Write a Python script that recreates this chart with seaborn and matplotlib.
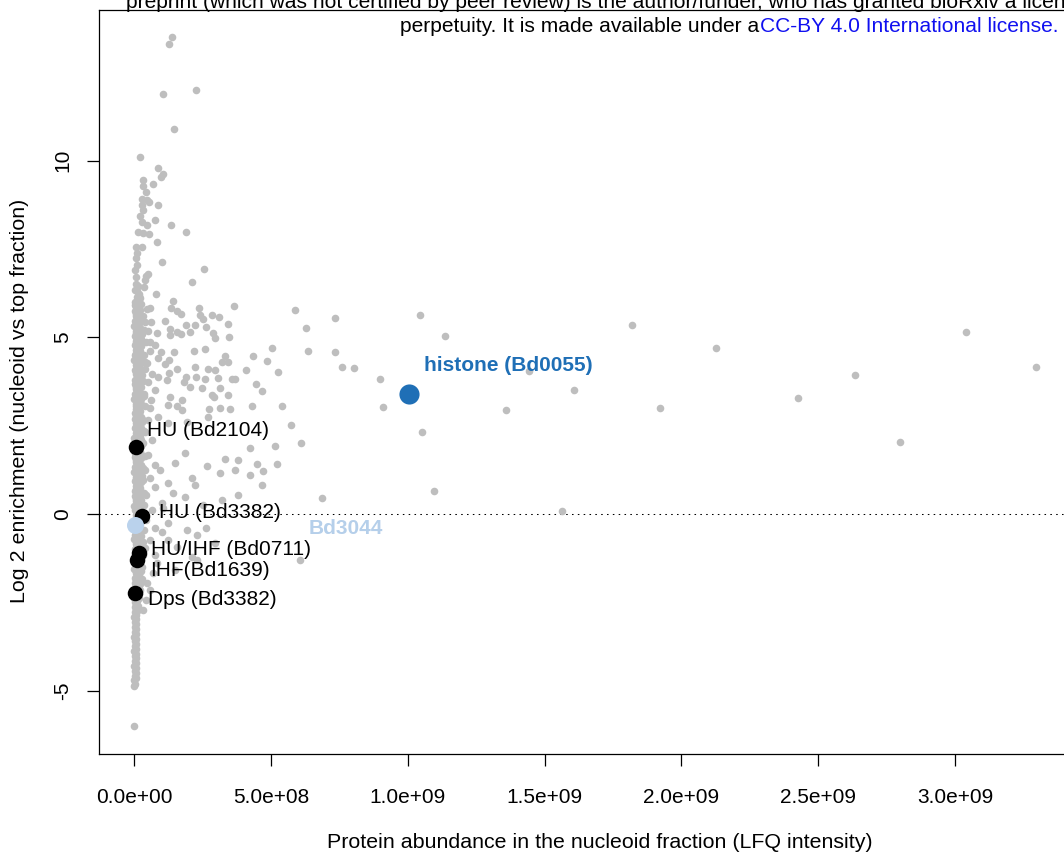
import numpy as np
import pandas as pd
import seaborn as sns
import matplotlib
matplotlib.use("Agg")
import matplotlib.pyplot as plt

# ---------------- data (abundance in units of 1e8 LFQ, enrichment in log2) ----------------
scatter_x = [1.37, 1.26, 1.04, 2.25, 1.44, 0.20, 0.86, 1.04, 0.97, 0.31, 0.68, 0.31, 0.42, 0.27, 0.46, 0.53,
             0.27, 0.86, 0.31, 0.20, 0.75, 0.27, 0.46, 1.32, 1.88, 0.13, 0.31, 0.53, 0.82, 0.05, 0.27, 0.09,
             0.07, 0.99, 0.09, 2.54, 0.02, 0.49, 0.42, 0.07, 2.10, 0.38, 0.05, 0.35, 0.02, 0.79, 0.09, 1.41,
             0.02, 3.64, 2.36, 1.32, 0.57, 0.46, 1.55, 1.70, 2.83, 3.09, 2.39, 2.50, 5.87, 7.33, 10.44, 11.35,
             18.19, 0.60, 1.12, 3.42, 1.88, 2.21, 2.61, 1.30, 1.55, 0.49, 0.84, 2.03, 1.70, 2.87, 3.46, 1.30,
             2.94, 6.27, 0.42, 0.75, 0.57, 2.18, 2.58, 0.97, 1.44, 4.33, 5.03, 3.31, 0.86, 4.84, 1.26, 3.20,
             3.42, 0.46, 1.12, 6.34, 7.33, 21.26, 2.21, 1.55, 2.69, 2.94, 4.08, 5.23, 7.59, 8.03, 1.26, 1.88,
             2.25, 0.86, 2.58, 3.05, 3.56, 3.67, 8.98, 14.42, 26.34, 32.96, 1.19, 0.49, 1.81, 4.44, 4.66, 16.07,
             2.03, 2.47, 3.13, 0.75, 2.83, 2.91, 3.42, 1.30, 24.26, 1.74, 0.60, 1.22, 1.55, 2.72, 3.13, 3.49,
             4.30, 5.39, 9.09, 13.58, 19.21, 1.74, 0.57, 2.69, 0.86, 1.22, 1.92, 5.72, 10.51, 6.09, 27.99, 4.22,
             5.14, 1.85, 1.48, 3.31, 3.78, 2.65, 3.13, 3.67, 4.48, 5.21, 4.22, 4.70, 2.10, 2.21, 1.22, 0.75,
             4.66, 3.78, 10.95, 6.86, 3.20, 1.85, 1.41, 1.01, 2.50, 1.04, 15.63, 1.92, 2.29, 2.63, 1.01, 1.22,
             0.75, 2.94, 1.22, 2.10, 6.05, 1.55, 2.29, 0.82, 1.48, 0.68, 0.46, 30.39,
             0.38, 0.57, 0.38, 0.64, 0.35, 0.49, 0.38, 0.64, 0.49, 0.75, 0.38, 0.57, 0.93, 0.42, 0.64, 0.42,
             0.57, 0.38, 0.75, 0.57, 0.42, 0.31]
scatter_y = [13.50, 13.30, 11.88, 12.00, 10.89, 10.10, 9.79, 9.62, 9.54, 9.45, 9.34, 9.28, 9.11, 8.91, 8.89, 8.83,
             8.74, 8.74, 8.60, 8.43, 8.32, 8.26, 8.18, 8.18, 7.98, 7.98, 7.95, 7.92, 7.70, 7.56, 7.56, 7.39,
             7.24, 7.13, 7.05, 6.93, 6.90, 6.79, 6.73, 6.71, 6.56, 6.62, 6.51, 6.42, 6.34, 6.23, 6.14, 6.03,
             5.91, 5.89, 5.83, 5.83, 5.83, 5.80, 5.74, 5.67, 5.63, 5.57, 5.63, 5.52, 5.77, 5.55, 5.63, 5.04,
             5.35, 5.43, 5.46, 5.38, 5.35, 5.35, 5.29, 5.23, 5.15, 5.18, 5.12, 5.15, 5.09, 5.12, 5.01, 5.07,
             4.98, 5.26, 4.87, 4.78, 4.61, 4.61, 4.67, 4.58, 4.58, 4.47, 4.70, 4.47, 4.41, 4.33, 4.36, 4.30,
             4.30, 4.27, 4.24, 4.61, 4.58, 4.70, 4.16, 4.10, 4.10, 4.07, 4.07, 4.02, 4.16, 4.13, 3.99, 3.88,
             3.88, 3.88, 3.82, 3.85, 3.82, 3.82, 3.82, 4.05, 3.93, 4.16, 3.79, 3.74, 3.74, 3.68, 3.48, 3.51,
             3.59, 3.57, 3.57, 3.51, 3.37, 3.31, 3.37, 3.31, 3.28, 3.23, 3.23, 3.08, 3.06, 2.97, 2.99, 2.97,
             3.06, 3.06, 3.03, 2.94, 3.00, 2.94, 3.00, 2.74, 2.74, 2.57, 2.60, 2.52, 2.32, 2.01, 2.04, 1.87,
             1.92, 1.73, 1.44, 1.56, 1.53, 1.36, 1.16, 1.25, 1.41, 1.41, 1.10, 1.22, 1.02, 0.82, 0.88, 0.76,
             0.82, 0.54, 0.65, 0.45, 0.40, 0.48, 0.59, 0.31, 0.25, 0.17, 0.08, -0.45, -0.59, -0.40, -0.51, -0.25,
             -0.40, -0.82, -0.74, -1.22, -1.30, -0.93, -1.30, -1.39, -1.58, -1.67, -1.95, 5.15,
             5.43, 4.87, 4.30, 3.97, 3.34, 2.65, 2.31, 2.09, 1.67, 1.38, 1.25, 1.02, 1.25, 0.54, 0.11, -0.17,
             -0.74, -0.96, -1.16, -2.16, -2.43, -2.71]

# dense column of low-abundance proteins
col_a_x = [0.02, 0.05, 0.01, 0.04, 0.03, 0.00, 0.06, 0.02, 0.04, 0.01, 0.05, 0.03, 0.00, 0.04, 0.02, 0.06,
           0.01, 0.03, 0.05, 0.02, 0.00, 0.04, 0.06, 0.01, 0.03, 0.05, 0.02, 0.04, 0.00, 0.03, 0.06, 0.01,
           0.02, 0.05, 0.03, 0.00, 0.04, 0.02, 0.06, 0.01, 0.03, 0.05, 0.00, 0.02, 0.04, 0.01, 0.06, 0.03,
           0.02, 0.00, 0.05, 0.01, 0.04, 0.02, 0.03, 0.00, 0.05, 0.01, 0.03, 0.02, 0.04, 0.00, 0.02, 0.01,
           0.03, 0.00, 0.02, 0.01, 0.03, 0.00, 0.02, 0.01, 0.00, 0.02, 0.01, 0.00, 0.02, 0.01, 0.00, 0.01,
           0.00, 0.00]
col_a_y = [6.00, 5.86, 5.73, 5.60, 5.45, 5.32, 5.18, 5.05, 4.90, 4.77, 4.63, 4.50, 4.36, 4.22, 4.08, 3.95,
           3.80, 3.67, 3.53, 3.40, 3.26, 3.12, 2.98, 2.85, 2.70, 2.57, 2.43, 2.30, 2.15, 2.02, 1.88, 1.74,
           1.60, 1.47, 1.33, 1.20, 1.05, 0.92, 0.78, 0.64, 0.50, 0.37, 0.23, 0.10, -0.04, -0.18, -0.31, -0.45,
           -0.58, -0.72, -0.86, -1.00, -1.13, -1.27, -1.40, -1.55, -1.68, -1.82, -1.95, -2.10, -2.23, -2.37,
           -2.50, -2.64, -2.78, -2.92, -3.05, -3.20, -3.33, -3.47, -3.60, -3.74, -3.88, -4.02, -4.15, -4.30,
           -4.43, -4.57, -4.70, -4.80, -4.88, -6.00]
col_e_x = [0.07, 0.09, 0.06, 0.08, 0.07, 0.09, 0.06, 0.08, 0.07, 0.09, 0.06, 0.08, 0.07, 0.09, 0.06, 0.08,
           0.08, 0.06, 0.09, 0.07, 0.08, 0.06, 0.09, 0.07, 0.08, 0.06, 0.09, 0.07, 0.08, 0.06, 0.09, 0.07,
           0.07, 0.09, 0.06, 0.08, 0.07, 0.09, 0.06, 0.08, 0.07, 0.09, 0.06, 0.08, 0.07, 0.09, 0.06, 0.08,
           0.08, 0.06, 0.09, 0.07, 0.08, 0.06, 0.09, 0.07, 0.08, 0.06, 0.07, 0.06, 0.07, 0.06, 0.07, 0.06,
           0.06, 0.07, 0.06, 0.07, 0.06, 0.07, 0.06, 0.07, 0.06, 0.07, 0.06, 0.07, 0.06, 0.07]
col_e_y = [5.93, 5.79, 5.66, 5.52, 5.39, 5.25, 5.11, 4.97, 4.84, 4.70, 4.56, 4.43, 4.29, 4.15, 4.01, 3.87,
           3.74, 3.60, 3.46, 3.33, 3.19, 3.05, 2.91, 2.77, 2.64, 2.50, 2.36, 2.22, 2.08, 1.95, 1.81, 1.67,
           1.53, 1.40, 1.26, 1.12, 0.98, 0.85, 0.71, 0.57, 0.43, 0.30, 0.16, 0.03, -0.11, -0.25, -0.38, -0.52,
           -0.65, -0.79, -0.93, -1.06, -1.20, -1.34, -1.47, -1.61, -1.75, -1.88, -2.02, -2.16, -2.30, -2.44,
           -2.57, -2.71, -2.85, -2.98, -3.12, -3.26, -3.40, -3.54, -3.67, -3.81, -3.95, -4.08, -4.22, -4.36,
           -4.50, -4.63]
col_b_x = [0.12, 0.10, 0.15, 0.11, 0.14, 0.13, 0.10, 0.16, 0.12, 0.11, 0.14, 0.10, 0.15, 0.13, 0.12, 0.16,
           0.11, 0.14, 0.10, 0.13, 0.15, 0.12, 0.11, 0.16, 0.13, 0.10, 0.14, 0.12, 0.15, 0.11, 0.13, 0.10,
           0.16, 0.12, 0.14, 0.11, 0.13, 0.15, 0.10, 0.12, 0.14, 0.11, 0.16, 0.13, 0.10, 0.12, 0.15, 0.11,
           0.14, 0.13, 0.10, 0.12, 0.15, 0.11, 0.13, 0.10, 0.14, 0.12, 0.11, 0.13, 0.10, 0.12, 0.11, 0.10,
           0.12, 0.10, 0.11, 0.10]
col_b_y = [6.45, 6.30, 6.18, 6.02, 5.90, 5.76, 5.62, 5.50, 5.37, 5.22, 5.10, 4.96, 4.83, 4.70, 4.55, 4.42,
           4.28, 4.15, 4.02, 3.88, 3.74, 3.60, 3.47, 3.34, 3.20, 3.06, 2.93, 2.78, 2.65, 2.52, 2.38, 2.25,
           2.10, 1.97, 1.83, 1.70, 1.56, 1.42, 1.28, 1.15, 1.01, 0.87, 0.74, 0.60, 0.46, 0.32, 0.18, 0.05,
           -0.10, -0.24, -0.37, -0.51, -0.65, -0.80, -0.93, -1.07, -1.20, -1.35, -1.48, -1.62, -1.76, -1.90,
           -2.05, -2.18, -2.32, -2.47, -2.60, -2.75]
col_f_x = [0.17, 0.19, 0.16, 0.18, 0.17, 0.19, 0.16, 0.18, 0.17, 0.19, 0.16, 0.18, 0.17, 0.19, 0.16, 0.18,
           0.18, 0.16, 0.19, 0.17, 0.18, 0.16, 0.19, 0.17, 0.18, 0.16, 0.19, 0.17, 0.18, 0.16, 0.19, 0.17,
           0.17, 0.19, 0.16, 0.18, 0.17, 0.19, 0.16, 0.18, 0.17, 0.19, 0.16, 0.18, 0.17, 0.19, 0.16, 0.18,
           0.18, 0.16, 0.19, 0.17, 0.18, 0.16, 0.17, 0.16, 0.18, 0.17, 0.16, 0.17, 0.16, 0.17, 0.16, 0.15]
col_f_y = [6.22, 6.10, 5.96, 5.83, 5.69, 5.56, 5.43, 5.29, 5.16, 5.03, 4.89, 4.76, 4.62, 4.49, 4.35, 4.21,
           4.08, 3.95, 3.81, 3.67, 3.54, 3.40, 3.27, 3.13, 3.00, 2.86, 2.72, 2.58, 2.45, 2.31, 2.17, 2.04,
           1.90, 1.76, 1.63, 1.49, 1.35, 1.22, 1.08, 0.94, 0.80, 0.67, 0.53, 0.39, 0.25, 0.12, -0.03, -0.17,
           -0.31, -0.44, -0.58, -0.72, -0.86, -1.00, -1.14, -1.27, -1.41, -1.55, -1.69, -1.83, -1.97, -2.11,
           -2.25, -2.39]
col_c_x = [0.22, 0.20, 0.25, 0.23, 0.21, 0.26, 0.22, 0.24, 0.20, 0.25, 0.23, 0.21, 0.26, 0.22, 0.24, 0.20,
           0.23, 0.25, 0.21, 0.22, 0.26, 0.24, 0.20, 0.23, 0.25, 0.21, 0.22, 0.24, 0.20, 0.26, 0.23, 0.21,
           0.25, 0.22, 0.24, 0.20, 0.23, 0.21, 0.25, 0.22, 0.20, 0.24, 0.21, 0.23, 0.20, 0.22, 0.21, 0.20,
           0.19]
col_c_y = [5.95, 5.78, 5.60, 5.45, 5.27, 5.10, 4.94, 4.76, 4.60, 4.44, 4.26, 4.10, 3.93, 3.77, 3.60, 3.42,
           3.25, 3.10, 2.92, 2.75, 2.60, 2.42, 2.25, 2.08, 1.92, 1.75, 1.58, 1.40, 1.25, 1.07, 0.90, 0.74,
           0.56, 0.40, 0.22, 0.06, -0.12, -0.28, -0.45, -0.62, -0.78, -0.95, -1.12, -1.28, -1.45, -1.62,
           -1.80, -1.97, -2.15]
col_d_x = [0.31, 0.36, 0.29, 0.34, 0.38, 0.30, 0.33, 0.37, 0.29, 0.35, 0.31, 0.39, 0.32, 0.30, 0.36, 0.33,
           0.29, 0.34, 0.31, 0.30, 0.28, 0.29]
col_d_y = [5.60, 5.20, 4.85, 4.50, 4.10, 3.75, 3.40, 3.05, 2.70, 2.35, 2.00, 1.65, 1.30, 0.95, 0.60, 0.25,
           -0.10, -0.45, -0.80, -1.15, -1.50, -1.85]

# highlighted proteins
hl_names = ["HU (Bd2104)", "HU (Bd3382)", "HU/IHF (Bd0711)", "IHF(Bd1639)", "Dps (Bd3382)"]
hl_x = [0.04, 0.29, 0.18, 0.08, 0.02]
hl_y = [1.89, -0.05, -1.11, -1.30, -2.24]
histone_name = "histone (Bd0055)"
histone_x = [10.04]
histone_y = [3.39]
bd3044_name = "Bd3044"
bd3044_x = [0.02]
bd3044_y = [-0.32]

xtick_vals = [0, 5e8, 1e9, 1.5e9, 2e9, 2.5e9, 3e9]
xtick_labels = ["0.0e+00", "5.0e+08", "1.0e+09", "1.5e+09", "2.0e+09", "2.5e+09", "3.0e+09"]
ytick_vals = [-5, 0, 5, 10]
ytick_labels = ["-5", "0", "5", "10"]

SCALE = 1e8
gray_x = np.array(scatter_x + col_a_x + col_e_x + col_b_x + col_f_x + col_c_x + col_d_x) * SCALE
gray_y = np.array(scatter_y + col_a_y + col_e_y + col_b_y + col_f_y + col_c_y + col_d_y)
df_gray = pd.DataFrame({"abund": gray_x, "enrich": gray_y})

# ---------------- style ----------------
sns.set_style("ticks")
plt.rcParams["font.family"] = ["Liberation Sans", "DejaVu Sans"]
plt.rcParams["text.color"] = "black"
FS = 15
FS_LAB = 15.4
FS_HEAD = 15.1

W, H = 1064, 859
fig = plt.figure(figsize=(W / 100, H / 100), dpi=100)
ax_left, ax_right, ax_top, ax_bot = 99, 1101, 10, 754
ax = fig.add_axes([ax_left / W, 1 - ax_bot / H, (ax_right - ax_left) / W, (ax_bot - ax_top) / H])

sns.scatterplot(data=df_gray, x="abund", y="enrich", color="#BEBEBE", s=30, linewidth=0, ax=ax, zorder=2)
sns.scatterplot(x=np.array(hl_x) * SCALE, y=hl_y, color="black", s=125, linewidth=0, ax=ax, zorder=3)
sns.scatterplot(x=np.array(bd3044_x) * SCALE, y=bd3044_y, color="#BAD2EC", s=150, linewidth=0, ax=ax, zorder=4)
sns.scatterplot(x=np.array(histone_x) * SCALE, y=histone_y, color="#1F6FB6", s=210, linewidth=0, ax=ax, zorder=4)

ax.axhline(0, color="black", lw=0.75, ls=(0, (1.5, 4.1)), zorder=1)

# labels of highlighted points (offsets in data units)
label_dx = [0.42, 0.61, 0.42, 0.49, 0.47]
label_dy = [0.46, 0.08, 0.12, -0.31, -0.19]
for name, x, y, dx, dy in zip(hl_names, hl_x, hl_y, label_dx, label_dy):
    ax.text((x + dx) * SCALE, y + dy, name, fontsize=FS, color="black", ha="left", va="center", zorder=5)
ax.text((histone_x[0] + 0.55) * SCALE, histone_y[0] + 0.80, histone_name, fontsize=FS, fontweight="bold",
        color="#1F6FB6", ha="left", va="center", zorder=5)
ax.text((bd3044_x[0] + 6.36) * SCALE, bd3044_y[0] - 0.10, bd3044_name, fontsize=FS, fontweight="bold",
        color="#B5CFEA", ha="left", va="center", zorder=5)

ax.set_xlim(-1.298e8, 35.34e8)
ax.set_ylim(-6.79, 14.26)
ax.set_xticks(xtick_vals)
ax.set_xticklabels(xtick_labels)
ax.set_yticks(ytick_vals)
ax.set_yticklabels(ytick_labels, rotation=90, va="center")
ax.tick_params(axis="both", direction="out", length=8.6, width=0.9, color="black", labelsize=FS, labelcolor="black")
ax.tick_params(axis="x", pad=16)
ax.tick_params(axis="y", pad=10.5)
for side in ["left", "bottom", "top", "right"]:
    ax.spines[side].set_visible(True)
    ax.spines[side].set_color("black")
    ax.spines[side].set_linewidth(0.9)
ax.set_xlabel("")
ax.set_ylabel("")

fig.text(600 / W, 1 - 843 / H, "Protein abundance in the nucleoid fraction (LFQ intensity)", fontsize=FS_LAB,
         ha="center", va="center", color="black")
fig.text(20 / W, 1 - 401 / H, "Log 2 enrichment (nucleoid vs top fraction)", fontsize=FS_LAB, rotation=90,
         ha="center", va="center", color="black")

# bioRxiv header
fig.text(126 / W, 1 - 3 / H, "preprint (which was not certified by peer review) is the author/funder, who has granted bioRxiv a license to display the preprint in",
         fontsize=FS_HEAD, ha="left", va="center", color="black")
blue = fig.text(1058 / W, 1 - 27 / H, "CC-BY 4.0 International license.", fontsize=FS_HEAD, ha="right", va="center",
                color="#1010F0")
fig.canvas.draw()
bb = blue.get_window_extent(renderer=fig.canvas.get_renderer())
fig.text(bb.x0 / W, 1 - 27 / H, "perpetuity. It is made available under a", fontsize=FS_HEAD, ha="right", va="center",
         color="black")

fig.savefig("out.png", dpi=100)
